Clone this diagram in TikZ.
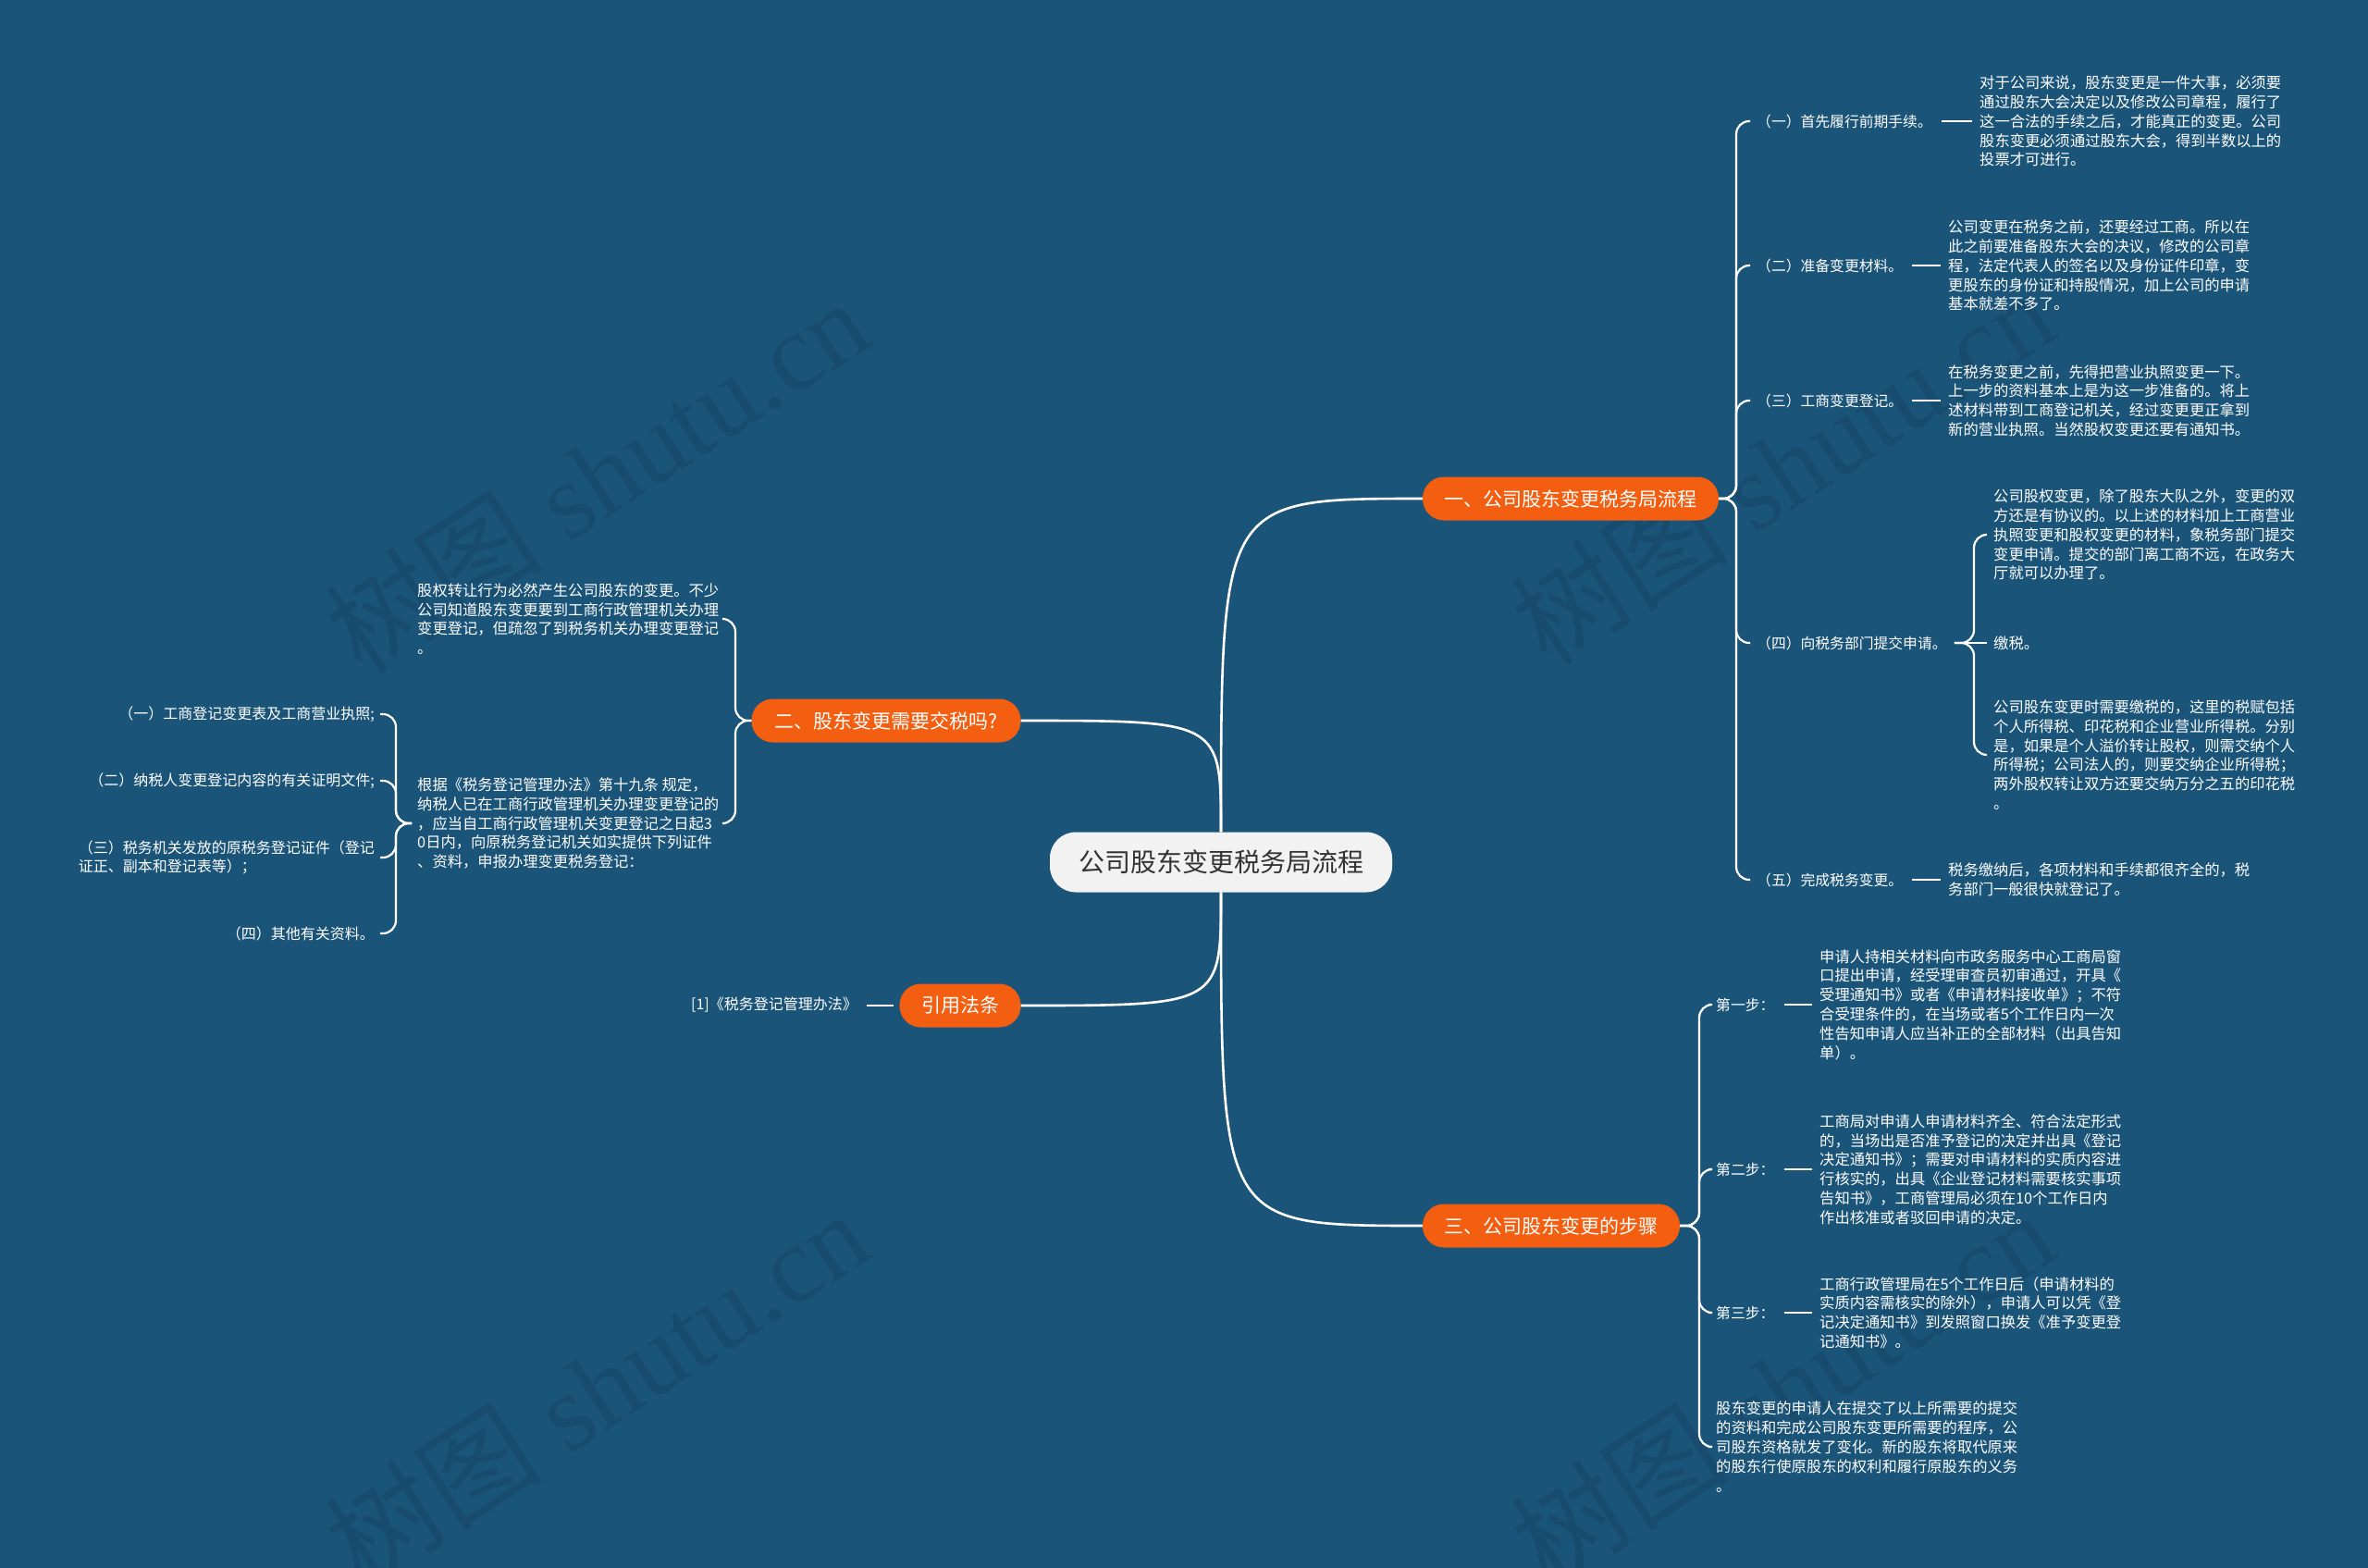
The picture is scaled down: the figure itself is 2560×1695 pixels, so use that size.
\documentclass[tikz,border=0pt]{standalone}
\usepackage{fontspec}
\setmainfont{Noto Sans CJK SC}
\newfontfamily\cjk{Noto Sans CJK SC}
\newfontfamily\wmserif{Liberation Serif}
\definecolor{bg}{HTML}{1B5479}
\definecolor{org}{HTML}{F35E10}
\definecolor{ctr}{HTML}{F2F2F2}
\definecolor{ctrtext}{HTML}{333333}
\definecolor{wm}{HTML}{184C6E}
\tikzset{
  leaf/.style={font=\cjk\fontsize{16.3}{20.8}\selectfont, text=white, align=left, inner sep=0pt, anchor=west},
  lab/.style={font=\cjk\fontsize{15.8}{20.8}\selectfont, text=white, align=left, inner sep=0pt, anchor=west},
  labr/.style={font=\cjk\fontsize{16}{20.8}\selectfont, text=white, align=left, inner sep=0pt, anchor=east},
  mainbox/.style={fill=org, text=white, font=\cjk\fontsize{21}{24}\selectfont, rounded corners=23pt, minimum height=47pt, inner sep=0pt},
  centerbox/.style={fill=ctr, text=ctrtext, font=\cjk\fontsize{28}{32}\selectfont, rounded corners=28pt, minimum height=65pt, minimum width=370pt, inner sep=0pt},
  mainline/.style={draw=white, line width=2.6pt},
  br/.style={draw=white, line width=2.2pt, rounded corners=14pt},
  dashline/.style={draw=white, line width=2.2pt},
  wmark/.style={text=wm, rotate=33, font=\wmserif\fontsize{118}{118}\selectfont}
}
\begin{document}
\begin{tikzpicture}[x=1pt,y=-1pt]
\fill[bg] (0,0) rectangle (2560,1695);
\useasboundingbox (0,0) rectangle (2560,1695);

% watermarks
\node[wmark] (wm1) at (645,514) {{\cjk 树图} shutu.cn};
\node[wmark] (wm2) at (1927,505) {{\cjk 树图} shutu.cn};
\node[wmark] (wm3) at (645,1500) {{\cjk 树图} shutu.cn};
\node[wmark] (wm4) at (1927,1500) {{\cjk 树图} shutu.cn};

% center and main branches
\node[centerbox] (c) at (1320,932) {公司股东变更税务局流程};
\node[mainbox, minimum width=320pt] (b1) at (1698,539) {一、公司股东变更税务局流程};
\node[mainbox, minimum width=291pt] (b2) at (958,779) {二、股东变更需要交税吗?};
\node[mainbox, minimum width=131pt] (b3) at (1038,1087) {引用法条};
\node[mainbox, minimum width=278pt] (b4) at (1677,1325) {三、公司股东变更的步骤};

\draw[mainline] (c.north) .. controls (c.north |- b1.west) .. (b1.west);
\draw[mainline] (c.north) .. controls (c.north |- b2.east) .. (b2.east);
\draw[mainline] (c.south) .. controls (c.south |- b3.east) .. (b3.east);
\draw[mainline] (c.south) .. controls (c.south |- b4.west) .. (b4.west);

% ---------- branch 1 ----------
\node[lab] (l1) at (1899,131) {（一）首先履行前期手续。};
\node[lab] (l2) at (1899,287) {（二）准备变更材料。};
\node[lab] (l3) at (1899,433) {（三）工商变更登记。};
\node[lab] (l4) at (1899,695) {（四）向税务部门提交申请。};
\node[lab] (l5) at (1899,951) {（五）完成税务变更。};

\node[leaf] (t1) at (2140,131) {对于公司来说，股东变更是一件大事，必须要\\通过股东大会决定以及修改公司章程，履行了\\这一合法的手续之后，才能真正的变更。公司\\股东变更必须通过股东大会，得到半数以上的\\投票才可进行。};
\node[leaf] (t2) at (2106,287) {公司变更在税务之前，还要经过工商。所以在\\此之前要准备股东大会的决议，修改的公司章\\程，法定代表人的签名以及身份证件印章，变\\更股东的身份证和持股情况，加上公司的申请\\基本就差不多了。};
\node[leaf] (t3) at (2106,433) {在税务变更之前，先得把营业执照变更一下。\\上一步的资料基本上是为这一步准备的。将上\\述材料带到工商登记机关，经过变更更正拿到\\新的营业执照。当然股权变更还要有通知书。};
\node[leaf] (t4a) at (2155,578) {公司股权变更，除了股东大队之外，变更的双\\方还是有协议的。以上述的材料加上工商营业\\执照变更和股权变更的材料，象税务部门提交\\变更申请。提交的部门离工商不远，在政务大\\厅就可以办理了。};
\node[leaf] (t4b) at (2155,695) {缴税。};
\node[leaf] (t4c) at (2155,816) {公司股东变更时需要缴税的，这里的税赋包括\\个人所得税、印花税和企业营业所得税。分别\\是，如果是个人溢价转让股权，则需交纳个人\\所得税；公司法人的，则要交纳企业所得税；\\两外股权转让双方还要交纳万分之五的印花税\\。};
\node[leaf] (t5) at (2106,951) {税务缴纳后，各项材料和手续都很齐全的，税\\务部门一般很快就登记了。};

\draw[br, shorten >=7pt] (b1.east) -- (1877,539) |- (l1.west);
\draw[br, shorten >=7pt] (b1.east) -- (1877,539) |- (l2.west);
\draw[br, shorten >=7pt] (b1.east) -- (1877,539) |- (l3.west);
\draw[br, shorten >=7pt] (b1.east) -- (1877,539) |- (l4.west);
\draw[br, shorten >=7pt] (b1.east) -- (1877,539) |- (l5.west);

\draw[dashline, shorten <=10pt, shorten >=8pt] (l1.east) -- (l1.east -| t1.west);
\draw[dashline, shorten <=10pt, shorten >=8pt] (l2.east) -- (l2.east -| t2.west);
\draw[dashline, shorten <=10pt, shorten >=8pt] (l3.east) -- (l3.east -| t3.west);
\draw[dashline, shorten <=10pt, shorten >=8pt] (l5.east) -- (l5.east -| t5.west);

\draw[br, shorten <=8pt, shorten >=7pt] (l4.east) -- (2134,695) |- (t4a.west);
\draw[br, shorten <=8pt, shorten >=7pt] (l4.east) -- (t4b.west);
\draw[br, shorten <=8pt, shorten >=7pt] (l4.east) -- (2134,695) |- (t4c.west);

% ---------- branch 4 (三) ----------
\node[lab] (s1) at (1855,1086) {第一步：};
\node[lab] (s2) at (1855,1264) {第二步：};
\node[lab] (s3) at (1855,1419) {第三步：};
\node[leaf] (u1) at (1967,1086) {申请人持相关材料向市政务服务中心工商局窗\\口提出申请，经受理审查员初审通过，开具《\\受理通知书》或者《申请材料接收单》；不符\\合受理条件的，在当场或者5个工作日内一次\\性告知申请人应当补正的全部材料（出具告知\\单）。};
\node[leaf] (u2) at (1967,1264) {工商局对申请人申请材料齐全、符合法定形式\\的，当场出是否准予登记的决定并出具《登记\\决定通知书》；需要对申请材料的实质内容进\\行核实的，出具《企业登记材料需要核实事项\\告知书》，工商管理局必须在10个工作日内\\作出核准或者驳回申请的决定。};
\node[leaf] (u3) at (1967,1419) {工商行政管理局在5个工作日后（申请材料的\\实质内容需核实的除外），申请人可以凭《登\\记决定通知书》到发照窗口换发《准予变更登\\记通知书》。};
\node[leaf] (u4) at (1855,1564) {股东变更的申请人在提交了以上所需要的提交\\的资料和完成公司股东变更所需要的程序，公\\司股东资格就发了变化。新的股东将取代原来\\的股东行使原股东的权利和履行原股东的义务\\。};

\draw[br, shorten >=8pt] (b4.east) -- (1837,1325) |- (s1.west);
\draw[br, shorten >=8pt] (b4.east) -- (1837,1325) |- (s2.west);
\draw[br, shorten >=8pt] (b4.east) -- (1837,1325) |- (s3.west);
\draw[br, shorten >=8pt] (b4.east) -- (1837,1325) |- (u4.west);

\draw[dashline, shorten <=10pt, shorten >=8pt] (s1.east) -- (s1.east -| u1.west);
\draw[dashline, shorten <=10pt, shorten >=8pt] (s2.east) -- (s2.east -| u2.west);
\draw[dashline, shorten <=10pt, shorten >=8pt] (s3.east) -- (s3.east -| u3.west);

% ---------- branch 2 ----------
\node[leaf] (va) at (451,669) {股权转让行为必然产生公司股东的变更。不少\\公司知道股东变更要到工商行政管理机关办理\\变更登记，但疏忽了到税务机关办理变更登记\\。};
\node[leaf] (vb) at (451,890) {根据《税务登记管理办法》第十九条 规定，\\纳税人已在工商行政管理机关办理变更登记的\\，应当自工商行政管理机关变更登记之日起3\\0日内，向原税务登记机关如实提供下列证件\\、资料，申报办理变更税务登记：};

\draw[br, shorten >=6pt] (b2.west) -- (795,779) |- (va.east);
\draw[br, shorten >=6pt] (b2.west) -- (795,779) |- (vb.east);

\node[labr] (w1) at (405,772) {（一）工商登记变更表及工商营业执照;};
\node[labr] (w2) at (405,844) {（二）纳税人变更登记内容的有关证明文件;};
\node[labr] (w3) at (405,927) {（三）税务机关发放的原税务登记证件（登记\\证正、副本和登记表等）；};
\node[labr] (w4) at (405,1009) {（四）其他有关资料。};

\draw[br, shorten <=6pt, shorten >=6pt] (vb.west) -- (428,890) |- (w1.east);
\draw[br, shorten <=6pt, shorten >=6pt] (vb.west) -- (428,890) |- (w2.east);
\draw[br, shorten <=6pt, shorten >=6pt] (vb.west) -- (428,890) |- (w3.east);
\draw[br, shorten <=6pt, shorten >=6pt] (vb.west) -- (428,890) |- (w4.east);

% ---------- branch 3 ----------
\node[labr] (r1) at (927,1086) {[1]《税务登记管理办法》};
\draw[dashline, shorten <=6pt, shorten >=10pt] (b3.west) -- (b3.west -| r1.east);

\end{tikzpicture}
\end{document}
